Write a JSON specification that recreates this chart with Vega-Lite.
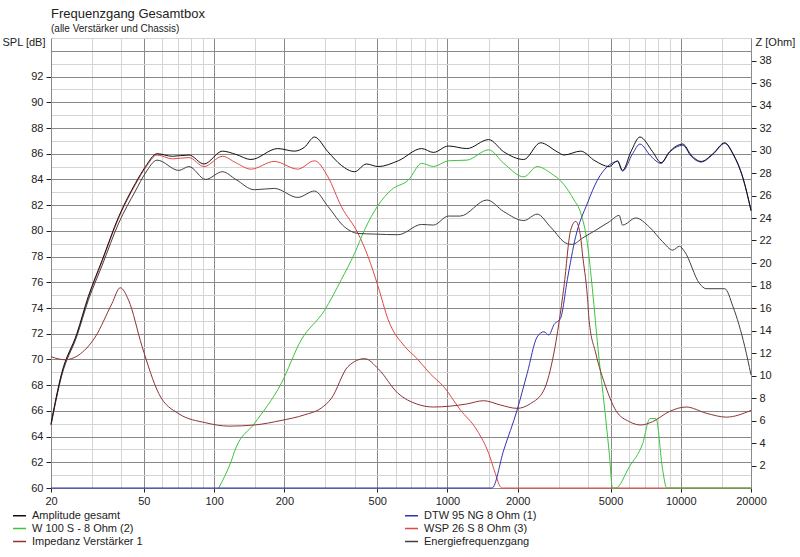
{
  "$schema": "https://vega.github.io/schema/vega-lite/v6.json",
  "width": 700,
  "height": 450,
  "autosize": {"type": "none"},
  "padding": {"left": 51, "top": 38, "right": 49, "bottom": 69},
  "background": "white",
  "title": {
    "text": "Frequenzgang Gesamtbox",
    "subtitle": "(alle Verstärker und Chassis)",
    "anchor": "start",
    "frame": "group",
    "fontSize": 13,
    "fontWeight": "normal",
    "subtitleFontSize": 10,
    "color": "#222222",
    "subtitleColor": "#222222",
    "offset": -2,
    "subtitlePadding": 3
  },
  "config": {"font": "Liberation Sans", "view": {"stroke": null}},
  "datasets": {
    "spl": [
      {"freq": 20, "spl": 64.9, "series": "WSP 26 S 8 Ohm (3)"},
      {"freq": 22.2, "spl": 68.8, "series": "WSP 26 S 8 Ohm (3)"},
      {"freq": 25.8, "spl": 71.9, "series": "WSP 26 S 8 Ohm (3)"},
      {"freq": 28.9, "spl": 74.8, "series": "WSP 26 S 8 Ohm (3)"},
      {"freq": 33.1, "spl": 77.6, "series": "WSP 26 S 8 Ohm (3)"},
      {"freq": 39, "spl": 81.0, "series": "WSP 26 S 8 Ohm (3)"},
      {"freq": 46, "spl": 83.6, "series": "WSP 26 S 8 Ohm (3)"},
      {"freq": 50.8, "spl": 84.9, "series": "WSP 26 S 8 Ohm (3)"},
      {"freq": 57, "spl": 85.9, "series": "WSP 26 S 8 Ohm (3)"},
      {"freq": 66.2, "spl": 85.6, "series": "WSP 26 S 8 Ohm (3)"},
      {"freq": 78, "spl": 85.7, "series": "WSP 26 S 8 Ohm (3)"},
      {"freq": 90.5, "spl": 85.0, "series": "WSP 26 S 8 Ohm (3)"},
      {"freq": 108.6, "spl": 85.8, "series": "WSP 26 S 8 Ohm (3)"},
      {"freq": 123.9, "spl": 85.3, "series": "WSP 26 S 8 Ohm (3)"},
      {"freq": 143.8, "spl": 84.8, "series": "WSP 26 S 8 Ohm (3)"},
      {"freq": 181.2, "spl": 85.4, "series": "WSP 26 S 8 Ohm (3)"},
      {"freq": 228.4, "spl": 84.8, "series": "WSP 26 S 8 Ohm (3)"},
      {"freq": 269.3, "spl": 85.45, "series": "WSP 26 S 8 Ohm (3)"},
      {"freq": 307.6, "spl": 84.2, "series": "WSP 26 S 8 Ohm (3)"},
      {"freq": 350.8, "spl": 81.9, "series": "WSP 26 S 8 Ohm (3)"},
      {"freq": 414, "spl": 79.8, "series": "WSP 26 S 8 Ohm (3)"},
      {"freq": 457, "spl": 78.0, "series": "WSP 26 S 8 Ohm (3)"},
      {"freq": 505, "spl": 75.65, "series": "WSP 26 S 8 Ohm (3)"},
      {"freq": 557, "spl": 73.1, "series": "WSP 26 S 8 Ohm (3)"},
      {"freq": 657, "spl": 71.0, "series": "WSP 26 S 8 Ohm (3)"},
      {"freq": 738, "spl": 70.1, "series": "WSP 26 S 8 Ohm (3)"},
      {"freq": 842, "spl": 68.9, "series": "WSP 26 S 8 Ohm (3)"},
      {"freq": 962, "spl": 67.9, "series": "WSP 26 S 8 Ohm (3)"},
      {"freq": 1133, "spl": 66.1, "series": "WSP 26 S 8 Ohm (3)"},
      {"freq": 1338, "spl": 64.5, "series": "WSP 26 S 8 Ohm (3)"},
      {"freq": 1502, "spl": 62.7, "series": "WSP 26 S 8 Ohm (3)"},
      {"freq": 1603, "spl": 61.15, "series": "WSP 26 S 8 Ohm (3)"},
      {"freq": 1685, "spl": 60.1, "series": "WSP 26 S 8 Ohm (3)"},
      {"freq": 1720, "spl": 60, "series": "WSP 26 S 8 Ohm (3)"},
      {"freq": 20000, "spl": 60, "series": "WSP 26 S 8 Ohm (3)"},

      {"freq": 104.7, "spl": 60, "series": "W 100 S - 8 Ohm (2)"},
      {"freq": 117.9, "spl": 62.0, "series": "W 100 S - 8 Ohm (2)"},
      {"freq": 123.9, "spl": 63.1, "series": "W 100 S - 8 Ohm (2)"},
      {"freq": 148.6, "spl": 65.0, "series": "W 100 S - 8 Ohm (2)"},
      {"freq": 193.6, "spl": 68.1, "series": "W 100 S - 8 Ohm (2)"},
      {"freq": 236, "spl": 71.5, "series": "W 100 S - 8 Ohm (2)"},
      {"freq": 297, "spl": 73.8, "series": "W 100 S - 8 Ohm (2)"},
      {"freq": 350.8, "spl": 76.2, "series": "W 100 S - 8 Ohm (2)"},
      {"freq": 400, "spl": 78.25, "series": "W 100 S - 8 Ohm (2)"},
      {"freq": 442, "spl": 80.1, "series": "W 100 S - 8 Ohm (2)"},
      {"freq": 505, "spl": 82.0, "series": "W 100 S - 8 Ohm (2)"},
      {"freq": 576, "spl": 83.2, "series": "W 100 S - 8 Ohm (2)"},
      {"freq": 680, "spl": 83.95, "series": "W 100 S - 8 Ohm (2)"},
      {"freq": 776, "spl": 85.25, "series": "W 100 S - 8 Ohm (2)"},
      {"freq": 871, "spl": 85.0, "series": "W 100 S - 8 Ohm (2)"},
      {"freq": 1010, "spl": 85.45, "series": "W 100 S - 8 Ohm (2)"},
      {"freq": 1211, "spl": 85.5, "series": "W 100 S - 8 Ohm (2)"},
      {"freq": 1502, "spl": 86.3, "series": "W 100 S - 8 Ohm (2)"},
      {"freq": 1743, "spl": 85.25, "series": "W 100 S - 8 Ohm (2)"},
      {"freq": 2125, "spl": 84.2, "series": "W 100 S - 8 Ohm (2)"},
      {"freq": 2424, "spl": 85.0, "series": "W 100 S - 8 Ohm (2)"},
      {"freq": 2766, "spl": 84.5, "series": "W 100 S - 8 Ohm (2)"},
      {"freq": 3158, "spl": 83.6, "series": "W 100 S - 8 Ohm (2)"},
      {"freq": 3488, "spl": 82.4, "series": "W 100 S - 8 Ohm (2)"},
      {"freq": 3724, "spl": 81.4, "series": "W 100 S - 8 Ohm (2)"},
      {"freq": 3980, "spl": 79.0, "series": "W 100 S - 8 Ohm (2)"},
      {"freq": 4180, "spl": 75.5, "series": "W 100 S - 8 Ohm (2)"},
      {"freq": 4438, "spl": 70.5, "series": "W 100 S - 8 Ohm (2)"},
      {"freq": 4710, "spl": 66.3, "series": "W 100 S - 8 Ohm (2)"},
      {"freq": 4950, "spl": 62.5, "series": "W 100 S - 8 Ohm (2)"},
      {"freq": 5098, "spl": 60, "series": "W 100 S - 8 Ohm (2)"},
      {"freq": 5268, "spl": 60, "series": "W 100 S - 8 Ohm (2)"},
      {"freq": 6018, "spl": 61.65, "series": "W 100 S - 8 Ohm (2)"},
      {"freq": 6864, "spl": 63.45, "series": "W 100 S - 8 Ohm (2)"},
      {"freq": 7380, "spl": 65.4, "series": "W 100 S - 8 Ohm (2)"},
      {"freq": 7830, "spl": 65.4, "series": "W 100 S - 8 Ohm (2)"},
      {"freq": 8366, "spl": 61.4, "series": "W 100 S - 8 Ohm (2)"},
      {"freq": 8704, "spl": 60, "series": "W 100 S - 8 Ohm (2)"},
      {"freq": 20000, "spl": 60, "series": "W 100 S - 8 Ohm (2)"},

      {"freq": 20, "spl": 60, "series": "DTW 95 NG 8 Ohm (1)"},
      {"freq": 1552, "spl": 60, "series": "DTW 95 NG 8 Ohm (1)"},
      {"freq": 1743, "spl": 62.95, "series": "DTW 95 NG 8 Ohm (1)"},
      {"freq": 1988, "spl": 66.05, "series": "DTW 95 NG 8 Ohm (1)"},
      {"freq": 2196, "spl": 68.9, "series": "DTW 95 NG 8 Ohm (1)"},
      {"freq": 2424, "spl": 71.75, "series": "DTW 95 NG 8 Ohm (1)"},
      {"freq": 2590, "spl": 72.15, "series": "DTW 95 NG 8 Ohm (1)"},
      {"freq": 2722, "spl": 71.9, "series": "DTW 95 NG 8 Ohm (1)"},
      {"freq": 2860, "spl": 72.7, "series": "DTW 95 NG 8 Ohm (1)"},
      {"freq": 3054, "spl": 73.2, "series": "DTW 95 NG 8 Ohm (1)"},
      {"freq": 3264, "spl": 76.2, "series": "DTW 95 NG 8 Ohm (1)"},
      {"freq": 3544, "spl": 79.55, "series": "DTW 95 NG 8 Ohm (1)"},
      {"freq": 3980, "spl": 82.15, "series": "DTW 95 NG 8 Ohm (1)"},
      {"freq": 4394, "spl": 83.95, "series": "DTW 95 NG 8 Ohm (1)"},
      {"freq": 4850, "spl": 85.0, "series": "DTW 95 NG 8 Ohm (1)"},
      {"freq": 5358, "spl": 85.4, "series": "DTW 95 NG 8 Ohm (1)"},
      {"freq": 5630, "spl": 84.65, "series": "DTW 95 NG 8 Ohm (1)"},
      {"freq": 6216, "spl": 86.0, "series": "DTW 95 NG 8 Ohm (1)"},
      {"freq": 6684, "spl": 86.75, "series": "DTW 95 NG 8 Ohm (1)"},
      {"freq": 7452, "spl": 85.8, "series": "DTW 95 NG 8 Ohm (1)"},
      {"freq": 8231, "spl": 85.25, "series": "DTW 95 NG 8 Ohm (1)"},
      {"freq": 8943, "spl": 86.1, "series": "DTW 95 NG 8 Ohm (1)"},
      {"freq": 10206, "spl": 86.65, "series": "DTW 95 NG 8 Ohm (1)"},
      {"freq": 11076, "spl": 85.8, "series": "DTW 95 NG 8 Ohm (1)"},
      {"freq": 12234, "spl": 85.35, "series": "DTW 95 NG 8 Ohm (1)"},
      {"freq": 13738, "spl": 85.95, "series": "DTW 95 NG 8 Ohm (1)"},
      {"freq": 15430, "spl": 86.8, "series": "DTW 95 NG 8 Ohm (1)"},
      {"freq": 16750, "spl": 85.95, "series": "DTW 95 NG 8 Ohm (1)"},
      {"freq": 18494, "spl": 84.05, "series": "DTW 95 NG 8 Ohm (1)"},
      {"freq": 20000, "spl": 81.55, "series": "DTW 95 NG 8 Ohm (1)"},

      {"freq": 20, "spl": 64.9, "series": "Energiefrequenzgang"},
      {"freq": 22.2, "spl": 68.7, "series": "Energiefrequenzgang"},
      {"freq": 25.8, "spl": 71.8, "series": "Energiefrequenzgang"},
      {"freq": 28.9, "spl": 74.6, "series": "Energiefrequenzgang"},
      {"freq": 33.1, "spl": 77.3, "series": "Energiefrequenzgang"},
      {"freq": 39, "spl": 80.6, "series": "Energiefrequenzgang"},
      {"freq": 46, "spl": 83.1, "series": "Energiefrequenzgang"},
      {"freq": 50.8, "spl": 84.5, "series": "Energiefrequenzgang"},
      {"freq": 57, "spl": 85.5, "series": "Energiefrequenzgang"},
      {"freq": 70.6, "spl": 84.7, "series": "Energiefrequenzgang"},
      {"freq": 78, "spl": 85.0, "series": "Energiefrequenzgang"},
      {"freq": 92, "spl": 84.0, "series": "Energiefrequenzgang"},
      {"freq": 108.6, "spl": 84.6, "series": "Energiefrequenzgang"},
      {"freq": 123.9, "spl": 84.0, "series": "Energiefrequenzgang"},
      {"freq": 148.6, "spl": 83.2, "series": "Energiefrequenzgang"},
      {"freq": 181.2, "spl": 83.3, "series": "Energiefrequenzgang"},
      {"freq": 228.4, "spl": 82.6, "series": "Energiefrequenzgang"},
      {"freq": 269.3, "spl": 83.1, "series": "Energiefrequenzgang"},
      {"freq": 307.6, "spl": 81.9, "series": "Energiefrequenzgang"},
      {"freq": 362.6, "spl": 80.3, "series": "Energiefrequenzgang"},
      {"freq": 414, "spl": 79.8, "series": "Energiefrequenzgang"},
      {"freq": 488, "spl": 79.75, "series": "Energiefrequenzgang"},
      {"freq": 615, "spl": 79.7, "series": "Energiefrequenzgang"},
      {"freq": 776, "spl": 80.5, "series": "Energiefrequenzgang"},
      {"freq": 871, "spl": 80.45, "series": "Energiefrequenzgang"},
      {"freq": 1010, "spl": 81.15, "series": "Energiefrequenzgang"},
      {"freq": 1133, "spl": 81.15, "series": "Energiefrequenzgang"},
      {"freq": 1477, "spl": 82.4, "series": "Energiefrequenzgang"},
      {"freq": 1743, "spl": 81.5, "series": "Energiefrequenzgang"},
      {"freq": 2125, "spl": 80.8, "series": "Energiefrequenzgang"},
      {"freq": 2424, "spl": 81.3, "series": "Energiefrequenzgang"},
      {"freq": 2766, "spl": 80.3, "series": "Energiefrequenzgang"},
      {"freq": 3264, "spl": 79.0, "series": "Energiefrequenzgang"},
      {"freq": 3430, "spl": 78.95, "series": "Energiefrequenzgang"},
      {"freq": 3800, "spl": 79.45, "series": "Energiefrequenzgang"},
      {"freq": 4320, "spl": 80.05, "series": "Energiefrequenzgang"},
      {"freq": 4934, "spl": 80.7, "series": "Energiefrequenzgang"},
      {"freq": 5448, "spl": 81.2, "series": "Energiefrequenzgang"},
      {"freq": 5630, "spl": 80.45, "series": "Energiefrequenzgang"},
      {"freq": 6422, "spl": 81.0, "series": "Energiefrequenzgang"},
      {"freq": 7334, "spl": 80.3, "series": "Energiefrequenzgang"},
      {"freq": 8366, "spl": 79.15, "series": "Energiefrequenzgang"},
      {"freq": 9238, "spl": 78.5, "series": "Energiefrequenzgang"},
      {"freq": 9872, "spl": 78.8, "series": "Energiefrequenzgang"},
      {"freq": 10376, "spl": 78.4, "series": "Energiefrequenzgang"},
      {"freq": 12040, "spl": 75.9, "series": "Energiefrequenzgang"},
      {"freq": 12854, "spl": 75.5, "series": "Energiefrequenzgang"},
      {"freq": 15430, "spl": 75.5, "series": "Energiefrequenzgang"},
      {"freq": 16750, "spl": 74.1, "series": "Energiefrequenzgang"},
      {"freq": 18808, "spl": 71.0, "series": "Energiefrequenzgang"},
      {"freq": 20000, "spl": 68.8, "series": "Energiefrequenzgang"},

      {"freq": 20, "spl": 65.0, "series": "Amplitude gesamt"},
      {"freq": 22.2, "spl": 68.9, "series": "Amplitude gesamt"},
      {"freq": 25.8, "spl": 72.0, "series": "Amplitude gesamt"},
      {"freq": 28.9, "spl": 74.9, "series": "Amplitude gesamt"},
      {"freq": 33.1, "spl": 77.7, "series": "Amplitude gesamt"},
      {"freq": 39, "spl": 81.1, "series": "Amplitude gesamt"},
      {"freq": 46, "spl": 83.7, "series": "Amplitude gesamt"},
      {"freq": 50.8, "spl": 85.0, "series": "Amplitude gesamt"},
      {"freq": 57, "spl": 86.0, "series": "Amplitude gesamt"},
      {"freq": 66.2, "spl": 85.8, "series": "Amplitude gesamt"},
      {"freq": 78, "spl": 85.9, "series": "Amplitude gesamt"},
      {"freq": 90.5, "spl": 85.2, "series": "Amplitude gesamt"},
      {"freq": 108.6, "spl": 86.2, "series": "Amplitude gesamt"},
      {"freq": 123.9, "spl": 85.95, "series": "Amplitude gesamt"},
      {"freq": 143.8, "spl": 85.55, "series": "Amplitude gesamt"},
      {"freq": 187.4, "spl": 86.4, "series": "Amplitude gesamt"},
      {"freq": 220.8, "spl": 86.2, "series": "Amplitude gesamt"},
      {"freq": 243.8, "spl": 86.5, "series": "Amplitude gesamt"},
      {"freq": 269.3, "spl": 87.3, "series": "Amplitude gesamt"},
      {"freq": 307.6, "spl": 86.15, "series": "Amplitude gesamt"},
      {"freq": 350.8, "spl": 85.1, "series": "Amplitude gesamt"},
      {"freq": 400.2, "spl": 84.6, "series": "Amplitude gesamt"},
      {"freq": 449.4, "spl": 85.2, "series": "Amplitude gesamt"},
      {"freq": 504.6, "spl": 85.0, "series": "Amplitude gesamt"},
      {"freq": 615.4, "spl": 85.45, "series": "Amplitude gesamt"},
      {"freq": 775.6, "spl": 86.4, "series": "Amplitude gesamt"},
      {"freq": 870.6, "spl": 86.1, "series": "Amplitude gesamt"},
      {"freq": 1010, "spl": 86.6, "series": "Amplitude gesamt"},
      {"freq": 1211, "spl": 86.4, "series": "Amplitude gesamt"},
      {"freq": 1502, "spl": 87.1, "series": "Amplitude gesamt"},
      {"freq": 1743, "spl": 86.15, "series": "Amplitude gesamt"},
      {"freq": 2125, "spl": 85.55, "series": "Amplitude gesamt"},
      {"freq": 2504, "spl": 86.85, "series": "Amplitude gesamt"},
      {"freq": 2955, "spl": 86.15, "series": "Amplitude gesamt"},
      {"freq": 3158, "spl": 85.9, "series": "Amplitude gesamt"},
      {"freq": 3724, "spl": 86.2, "series": "Amplitude gesamt"},
      {"freq": 4286, "spl": 85.45, "series": "Amplitude gesamt"},
      {"freq": 4934, "spl": 85.0, "series": "Amplitude gesamt"},
      {"freq": 5358, "spl": 85.45, "series": "Amplitude gesamt"},
      {"freq": 5630, "spl": 84.7, "series": "Amplitude gesamt"},
      {"freq": 6114, "spl": 86.15, "series": "Amplitude gesamt"},
      {"freq": 6684, "spl": 87.3, "series": "Amplitude gesamt"},
      {"freq": 7578, "spl": 86.15, "series": "Amplitude gesamt"},
      {"freq": 8231, "spl": 85.3, "series": "Amplitude gesamt"},
      {"freq": 8943, "spl": 86.15, "series": "Amplitude gesamt"},
      {"freq": 10206, "spl": 86.75, "series": "Amplitude gesamt"},
      {"freq": 11076, "spl": 85.9, "series": "Amplitude gesamt"},
      {"freq": 12234, "spl": 85.4, "series": "Amplitude gesamt"},
      {"freq": 13738, "spl": 86.0, "series": "Amplitude gesamt"},
      {"freq": 15430, "spl": 86.85, "series": "Amplitude gesamt"},
      {"freq": 16750, "spl": 86.0, "series": "Amplitude gesamt"},
      {"freq": 18494, "spl": 84.1, "series": "Amplitude gesamt"},
      {"freq": 20000, "spl": 81.6, "series": "Amplitude gesamt"}
    ],
    "imp": [
      {"freq": 20, "z": 11.67, "series": "Impedanz Verstärker 1"},
      {"freq": 23.0, "z": 11.4, "series": "Impedanz Verstärker 1"},
      {"freq": 26.2, "z": 11.8, "series": "Impedanz Verstärker 1"},
      {"freq": 30.9, "z": 13.4, "series": "Impedanz Verstärker 1"},
      {"freq": 36.5, "z": 16.4, "series": "Impedanz Verstärker 1"},
      {"freq": 39.6, "z": 17.8, "series": "Impedanz Verstärker 1"},
      {"freq": 43.0, "z": 16.7, "series": "Impedanz Verstärker 1"},
      {"freq": 49.1, "z": 12.6, "series": "Impedanz Verstärker 1"},
      {"freq": 57.9, "z": 8.4, "series": "Impedanz Verstärker 1"},
      {"freq": 70.6, "z": 6.6, "series": "Impedanz Verstärker 1"},
      {"freq": 92, "z": 5.8, "series": "Impedanz Verstärker 1"},
      {"freq": 116, "z": 5.5, "series": "Impedanz Verstärker 1"},
      {"freq": 148.6, "z": 5.6, "series": "Impedanz Verstärker 1"},
      {"freq": 193.6, "z": 6.0, "series": "Impedanz Verstärker 1"},
      {"freq": 243.8, "z": 6.5, "series": "Impedanz Verstärker 1"},
      {"freq": 287.8, "z": 7.1, "series": "Impedanz Verstärker 1"},
      {"freq": 317.8, "z": 7.95, "series": "Impedanz Verstärker 1"},
      {"freq": 375, "z": 10.8, "series": "Impedanz Verstärker 1"},
      {"freq": 442, "z": 11.5, "series": "Impedanz Verstärker 1"},
      {"freq": 505, "z": 10.6, "series": "Impedanz Verstärker 1"},
      {"freq": 615, "z": 8.4, "series": "Impedanz Verstärker 1"},
      {"freq": 738, "z": 7.47, "series": "Impedanz Verstärker 1"},
      {"freq": 871, "z": 7.2, "series": "Impedanz Verstärker 1"},
      {"freq": 1211, "z": 7.47, "series": "Impedanz Verstärker 1"},
      {"freq": 1429, "z": 7.76, "series": "Impedanz Verstärker 1"},
      {"freq": 1685, "z": 7.38, "series": "Impedanz Verstärker 1"},
      {"freq": 1988, "z": 7.08, "series": "Impedanz Verstärker 1"},
      {"freq": 2268, "z": 7.5, "series": "Impedanz Verstärker 1"},
      {"freq": 2590, "z": 8.7, "series": "Impedanz Verstärker 1"},
      {"freq": 2860, "z": 12.0, "series": "Impedanz Verstärker 1"},
      {"freq": 3158, "z": 17.9, "series": "Impedanz Verstärker 1"},
      {"freq": 3372, "z": 22.9, "series": "Impedanz Verstärker 1"},
      {"freq": 3544, "z": 23.7, "series": "Impedanz Verstärker 1"},
      {"freq": 3724, "z": 22.3, "series": "Impedanz Verstärker 1"},
      {"freq": 3786, "z": 20.9, "series": "Impedanz Verstärker 1"},
      {"freq": 3980, "z": 17.0, "series": "Impedanz Verstärker 1"},
      {"freq": 4048, "z": 14.9, "series": "Impedanz Verstärker 1"},
      {"freq": 4320, "z": 12.0, "series": "Impedanz Verstärker 1"},
      {"freq": 4770, "z": 9.0, "series": "Impedanz Verstärker 1"},
      {"freq": 5268, "z": 6.9, "series": "Impedanz Verstärker 1"},
      {"freq": 6018, "z": 5.9, "series": "Impedanz Verstärker 1"},
      {"freq": 6750, "z": 5.6, "series": "Impedanz Verstärker 1"},
      {"freq": 7578, "z": 5.9, "series": "Impedanz Verstärker 1"},
      {"freq": 8943, "z": 6.8, "series": "Impedanz Verstärker 1"},
      {"freq": 10540, "z": 7.2, "series": "Impedanz Verstärker 1"},
      {"freq": 12854, "z": 6.65, "series": "Impedanz Verstärker 1"},
      {"freq": 15676, "z": 6.3, "series": "Impedanz Verstärker 1"},
      {"freq": 20000, "z": 6.9, "series": "Impedanz Verstärker 1"}
    ]
  },
  "layer": [
    {
      "data": {"name": "spl"},
      "mark": {"type": "line", "strokeWidth": 1, "interpolate": "monotone"},
      "encoding": {
        "x": {
          "field": "freq",
          "type": "quantitative",
          "scale": {"type": "log", "domain": [20, 20000], "nice": false},
          "axis": {
            "title": null,
            "values": [20, 30, 40, 50, 60, 70, 80, 90, 100, 150, 200, 300, 400, 500, 600, 700, 800, 900, 1000, 1500, 2000, 3000, 4000, 5000, 6000, 7000, 8000, 9000, 10000, 15000, 20000],
            "format": "d",
            "labelExpr": "indexof([20, 50, 100, 200, 500, 1000, 2000, 5000, 10000, 20000], datum.value) >= 0 ? datum.label : ''",
            "labelOverlap": false,
            "labelFlush": false,
            "labelFontSize": 11,
            "labelColor": "#222222",
            "labelPadding": 3,
            "tickSize": 4,
            "tickColor": {"condition": {"test": "indexof([20, 50, 100, 200, 500, 1000, 2000, 5000, 10000, 20000], datum.value) >= 0", "value": "#222222"}, "value": "transparent"},
            "gridColor": {"condition": {"test": "indexof([20, 50, 100, 200, 500, 1000, 2000, 5000, 10000, 20000], datum.value) >= 0", "value": "#8a8a8a"}, "value": "#d4d4d4"},
            "gridOpacity": 1,
            "domainColor": "#8a8a8a"
          }
        },
        "y": {
          "field": "spl",
          "type": "quantitative",
          "scale": {"domain": [60, 95], "nice": false, "zero": false},
          "axis": {
            "orient": "left",
            "values": [60, 60.5, 61, 61.5, 62, 62.5, 63, 63.5, 64, 64.5, 65, 65.5, 66, 66.5, 67, 67.5, 68, 68.5, 69, 69.5, 70, 70.5, 71, 71.5, 72, 72.5, 73, 73.5, 74, 74.5, 75, 75.5, 76, 76.5, 77, 77.5, 78, 78.5, 79, 79.5, 80, 80.5, 81, 81.5, 82, 82.5, 83, 83.5, 84, 84.5, 85, 85.5, 86, 86.5, 87, 87.5, 88, 88.5, 89, 89.5, 90, 90.5, 91, 91.5, 92, 92.5, 93, 93.5, 94, 94.5, 95],
            "format": "d",
            "labelExpr": "datum.value % 2 === 0 && datum.value <= 92 ? datum.label : ''",
            "labelOverlap": false,
            "labelFlush": false,
            "labelFontSize": 11,
            "labelColor": "#222222",
            "labelPadding": 3,
            "tickSize": 5,
            "tickColor": {"condition": {"test": "datum.value % 2 === 0 && datum.value <= 92", "value": "#222222"}, "value": "transparent"},
            "gridColor": {"condition": {"test": "datum.value % 2 === 0", "value": "#8a8a8a"}, "value": "#d4d4d4"},
            "gridOpacity": 1,
            "domainColor": "#8a8a8a",
            "title": "SPL [dB]",
            "titleAngle": 0,
            "titleAlign": "right",
            "titleBaseline": "middle",
            "titleX": -6,
            "titleY": 4,
            "titleFontSize": 11,
            "titleFontWeight": "normal",
            "titleColor": "#222222"
          }
        },
        "color": {
          "field": "series",
          "type": "nominal",
          "scale": {
            "domain": ["Amplitude gesamt", "W 100 S - 8 Ohm (2)", "Impedanz Verstärker 1", "DTW 95 NG 8 Ohm (1)", "WSP 26 S 8 Ohm (3)", "Energiefrequenzgang"],
            "range": ["#111111", "#3cc43c", "#8c3434", "#3232b4", "#e04848", "#404040"]
          },
          "legend": {
            "title": null,
            "orient": "none",
            "legendX": -39,
            "legendY": 470,
            "columns": 2,
            "columnPadding": 259,
            "rowPadding": 0,
            "symbolType": "stroke",
            "symbolSize": 169,
            "symbolStrokeWidth": 1.5,
            "labelFontSize": 11,
            "labelColor": "#222222",
            "labelOffset": 5
          }
        }
      }
    },
    {
      "data": {"name": "imp"},
      "mark": {"type": "line", "strokeWidth": 1, "interpolate": "monotone"},
      "encoding": {
        "x": {"field": "freq", "type": "quantitative", "scale": {"type": "log", "domain": [20, 20000], "nice": false}},
        "y": {
          "field": "z",
          "type": "quantitative",
          "scale": {"domain": [0, 40], "nice": false},
          "axis": {
            "orient": "right",
            "values": [2, 4, 6, 8, 10, 12, 14, 16, 18, 20, 22, 24, 26, 28, 30, 32, 34, 36, 38],
            "grid": false,
            "labelFontSize": 11,
            "labelColor": "#222222",
            "labelPadding": 3,
            "tickSize": 5,
            "tickColor": "#222222",
            "domainColor": "#8a8a8a",
            "title": "Z [Ohm]",
            "titleAngle": 0,
            "titleAlign": "left",
            "titleBaseline": "middle",
            "titleX": 4,
            "titleY": 4,
            "titleFontSize": 11,
            "titleFontWeight": "normal",
            "titleColor": "#222222"
          }
        },
        "color": {
          "field": "series",
          "type": "nominal",
          "scale": {
            "domain": ["Amplitude gesamt", "W 100 S - 8 Ohm (2)", "Impedanz Verstärker 1", "DTW 95 NG 8 Ohm (1)", "WSP 26 S 8 Ohm (3)", "Energiefrequenzgang"],
            "range": ["#111111", "#3cc43c", "#8c3434", "#3232b4", "#e04848", "#404040"]
          }
        }
      }
    }
  ],
  "resolve": {"scale": {"y": "independent"}}
}
